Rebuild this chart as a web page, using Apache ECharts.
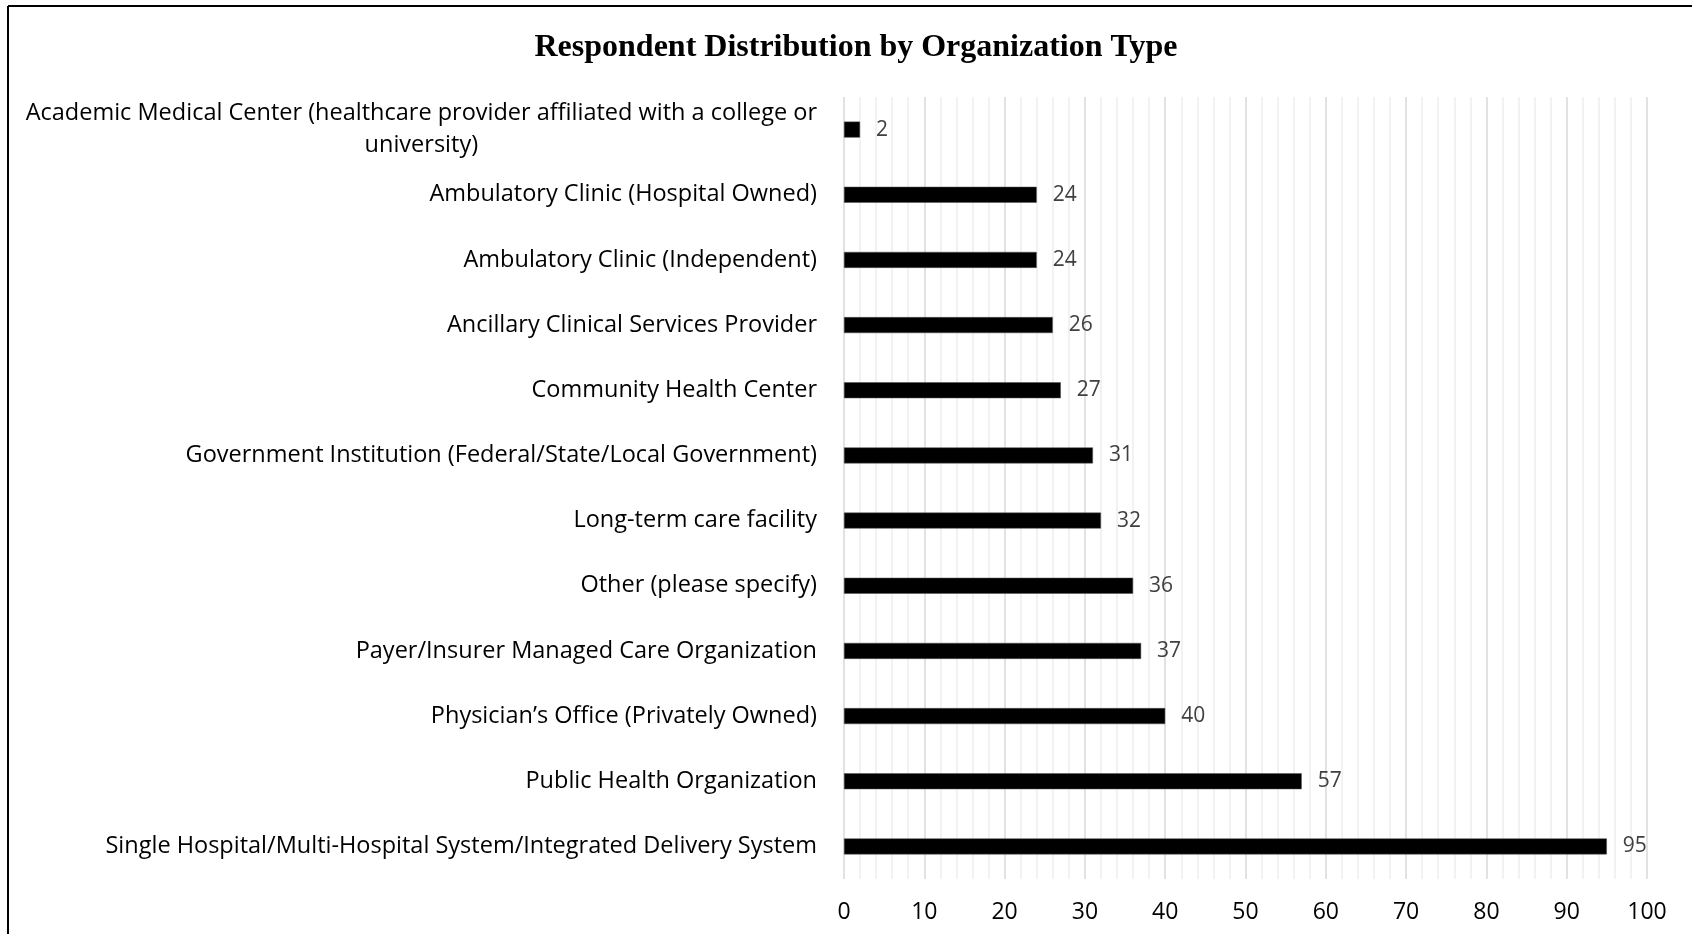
<!DOCTYPE html>
<html>
<head>
<meta charset="utf-8">
<script src="https://cdn.jsdelivr.net/npm/echarts@6/dist/echarts.min.js"></script>
<style>
html,body{margin:0;padding:0;background:#fff;}
#chart{width:1692px;height:934px;}
</style>
</head>
<body>
<div id="chart"></div>
<script>
const titleText = 'Respondent Distribution by Organization Type';
const categories = [
  'Academic Medical Center (healthcare provider affiliated with a college or\nuniversity)',
  'Ambulatory Clinic (Hospital Owned)',
  'Ambulatory Clinic (Independent)',
  'Ancillary Clinical Services Provider',
  'Community Health Center',
  'Government Institution (Federal/State/Local Government)',
  'Long-term care facility',
  'Other (please specify)',
  'Payer/Insurer Managed Care Organization',
  'Physician\u2019s Office (Privately Owned)',
  'Public Health Organization',
  'Single Hospital/Multi-Hospital System/Integrated Delivery System'
];
const values = [2, 24, 24, 26, 27, 31, 32, 36, 37, 40, 57, 95];
const xMin = 0, xMax = 100, xStep = 10;

const chart = echarts.init(document.getElementById('chart'), null, {renderer: 'canvas'});
const LABEL_FONT = '"Open Sans", Lato, sans-serif';
chart.setOption({
  animation: false,
  backgroundColor: '#fff',
  title: {
    text: titleText,
    left: 851,
    textAlign: 'center',
    top: 27,
    textStyle: {
      fontFamily: '"Liberation Serif", "Times New Roman", serif',
      fontWeight: 'bold',
      fontSize: 32,
      color: '#000'
    }
  },
  graphic: [
    {type: 'line', shape: {x1: 8, y1: 6, x2: 1692, y2: 6}, style: {stroke: '#000', lineWidth: 2}},
    {type: 'line', shape: {x1: 8, y1: 6, x2: 8, y2: 934}, style: {stroke: '#000', lineWidth: 2}}
  ],
  grid: {left: 844, right: 45, top: 97, bottom: 55, containLabel: false},
  xAxis: {
    type: 'value',
    min: xMin, max: xMax, interval: xStep,
    axisLine: {show: false},
    axisTick: {show: false},
    axisLabel: {color: '#000', fontSize: 23, fontFamily: LABEL_FONT, margin: 22},
    splitLine: {show: true, lineStyle: {color: '#d9d9d9', width: 1.5}},
    minorTick: {show: false, splitNumber: 5},
    minorSplitLine: {show: true, lineStyle: {color: '#eeeeee', width: 1.5}}
  },
  yAxis: {
    type: 'category',
    data: categories,
    inverse: true,
    axisLine: {show: false},
    axisTick: {show: false},
    axisLabel: {
      color: '#000',
      fontSize: 23.5,
      fontFamily: LABEL_FONT,
      margin: 27,
      align: 'right',
      formatter: function (v) {
        return v.split('\n').map(function (s) { return '{c|' + s + '}'; }).join('\n');
      },
      rich: {
        c: {align: 'center', fontSize: 23.5, fontFamily: LABEL_FONT, color: '#000', lineHeight: 32}
      }
    }
  },
  series: [{
    type: 'bar',
    data: values,
    barWidth: 16,
    itemStyle: {color: '#000', borderColor: '#555', borderWidth: 0.5},
    label: {
      show: true,
      position: 'right',
      distance: 16,
      color: '#404040',
      fontSize: 21,
      fontFamily: LABEL_FONT
    }
  }]
});
</script>
</body>
</html>
